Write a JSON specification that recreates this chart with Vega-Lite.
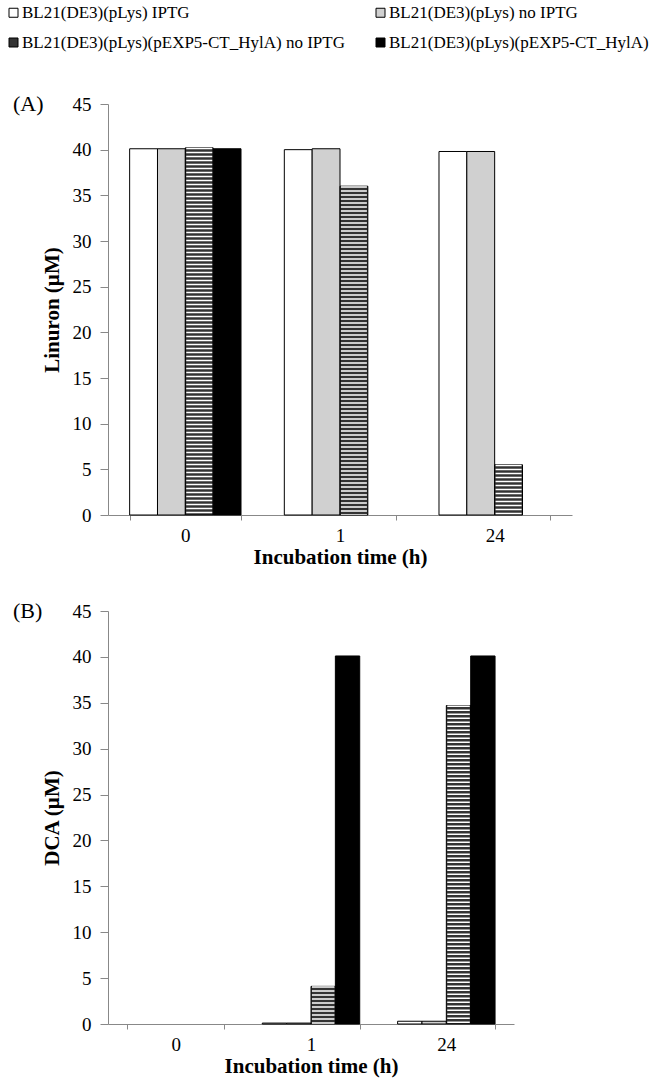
{
  "$schema": "https://vega.github.io/schema/vega-lite/v6.json",
  "padding": {"left": 5, "top": 4, "right": 5, "bottom": 5},
  "config": {
    "font": "Liberation Serif",
    "view": {"stroke": null},
    "axis": {
      "labelFont": "Liberation Serif", "titleFont": "Liberation Serif",
      "labelColor": "black", "titleColor": "black",
      "domainColor": "#888888", "tickColor": "#888888",
      "grid": false, "labelFontSize": 19, "titleFontSize": 21, "titleFontWeight": "bold"
    },
    "title": {"font": "Liberation Serif", "fontSize": 22, "fontWeight": "normal", "color": "black"}
  },
  "datasets": {
    "d": [
      {"panel": "A", "time": "0", "series": "BL21(DE3)(pLys) IPTG", "value": 40.1},
      {"panel": "A", "time": "0", "series": "BL21(DE3)(pLys) no IPTG", "value": 40.1},
      {"panel": "A", "time": "0", "series": "BL21(DE3)(pLys)(pEXP5-CT_HylA) no IPTG", "value": 40.2},
      {"panel": "A", "time": "0", "series": "BL21(DE3)(pLys)(pEXP5-CT_HylA)", "value": 40.1},
      {"panel": "A", "time": "1", "series": "BL21(DE3)(pLys) IPTG", "value": 40.0},
      {"panel": "A", "time": "1", "series": "BL21(DE3)(pLys) no IPTG", "value": 40.1},
      {"panel": "A", "time": "1", "series": "BL21(DE3)(pLys)(pEXP5-CT_HylA) no IPTG", "value": 36.0},
      {"panel": "A", "time": "1", "series": "BL21(DE3)(pLys)(pEXP5-CT_HylA)", "value": 0},
      {"panel": "A", "time": "24", "series": "BL21(DE3)(pLys) IPTG", "value": 39.8},
      {"panel": "A", "time": "24", "series": "BL21(DE3)(pLys) no IPTG", "value": 39.8},
      {"panel": "A", "time": "24", "series": "BL21(DE3)(pLys)(pEXP5-CT_HylA) no IPTG", "value": 5.5},
      {"panel": "A", "time": "24", "series": "BL21(DE3)(pLys)(pEXP5-CT_HylA)", "value": 0},
      {"panel": "B", "time": "0", "series": "BL21(DE3)(pLys) IPTG", "value": 0},
      {"panel": "B", "time": "0", "series": "BL21(DE3)(pLys) no IPTG", "value": 0},
      {"panel": "B", "time": "0", "series": "BL21(DE3)(pLys)(pEXP5-CT_HylA) no IPTG", "value": 0},
      {"panel": "B", "time": "0", "series": "BL21(DE3)(pLys)(pEXP5-CT_HylA)", "value": 0},
      {"panel": "B", "time": "1", "series": "BL21(DE3)(pLys) IPTG", "value": 0.1},
      {"panel": "B", "time": "1", "series": "BL21(DE3)(pLys) no IPTG", "value": 0.1},
      {"panel": "B", "time": "1", "series": "BL21(DE3)(pLys)(pEXP5-CT_HylA) no IPTG", "value": 4.1},
      {"panel": "B", "time": "1", "series": "BL21(DE3)(pLys)(pEXP5-CT_HylA)", "value": 40.1},
      {"panel": "B", "time": "24", "series": "BL21(DE3)(pLys) IPTG", "value": 0.3},
      {"panel": "B", "time": "24", "series": "BL21(DE3)(pLys) no IPTG", "value": 0.3},
      {"panel": "B", "time": "24", "series": "BL21(DE3)(pLys)(pEXP5-CT_HylA) no IPTG", "value": 34.7},
      {"panel": "B", "time": "24", "series": "BL21(DE3)(pLys)(pEXP5-CT_HylA)", "value": 40.1}
    ]
  },
  "data": {"name": "d"},
  "spacing": 33,
  "resolve": {"scale": {"color": "shared", "x": "independent", "y": "independent", "xOffset": "independent"}},
  "vconcat": [
    {
      "width": 464, "height": 411,
      "title": {"text": "(A)", "anchor": "start", "frame": "group", "dx": -95, "dy": 25},
      "transform": [{"filter": "datum.panel == 'A'"}],
      "encoding": {
        "x": {"field": "time", "type": "ordinal", "sort": ["0", "1", "24"],
          "scale": {"domain": ["0", "1", "24"], "paddingInner": 0.28, "paddingOuter": 0.14},
          "axis": {"labelAngle": 0, "tickBand": "extent", "tickSize": 5, "labelPadding": 6, "title": "Incubation time (h)", "titlePadding": 1}},
        "xOffset": {"field": "series", "type": "nominal",
          "sort": ["BL21(DE3)(pLys) IPTG", "BL21(DE3)(pLys) no IPTG", "BL21(DE3)(pLys)(pEXP5-CT_HylA) no IPTG", "BL21(DE3)(pLys)(pEXP5-CT_HylA)"],
          "scale": {"domain": ["BL21(DE3)(pLys) IPTG", "BL21(DE3)(pLys) no IPTG", "BL21(DE3)(pLys)(pEXP5-CT_HylA) no IPTG", "BL21(DE3)(pLys)(pEXP5-CT_HylA)"], "paddingInner": 0, "paddingOuter": 0}},
        "y": {"field": "value", "type": "quantitative",
          "scale": {"domain": [0, 45], "nice": false},
          "axis": {"values": [0, 5, 10, 15, 20, 25, 30, 35, 40, 45], "tickSize": 8, "labelPadding": 9, "title": "Linuron (µM)", "titlePadding": 10}}
      },
      "layer": [
        {
          "transform": [{"filter": "datum.value > 0"}],
          "mark": {"type": "bar", "stroke": "black", "strokeWidth": 1},
          "encoding": {
            "color": {"field": "series", "type": "nominal",
              "scale": {"domain": ["BL21(DE3)(pLys) IPTG", "BL21(DE3)(pLys) no IPTG", "BL21(DE3)(pLys)(pEXP5-CT_HylA) no IPTG", "BL21(DE3)(pLys)(pEXP5-CT_HylA)"],
                "range": ["white", "#d0d0d0", "#333333", "black"]},
              "legend": {"title": null, "orient": "none", "legendX": -103, "legendY": -100, "columns": 2, "direction": "horizontal",
                "symbolType": "square", "symbolSize": 81, "symbolStrokeColor": "black", "symbolStrokeWidth": 1,
                "labelFont": "Liberation Serif", "labelFontSize": 17, "labelColor": "black", "labelLimit": 0,
                "rowPadding": 12, "columnPadding": 27, "labelOffset": 0}}
          }
        },
        {
          "transform": [{"filter": "datum.series == 'BL21(DE3)(pLys)(pEXP5-CT_HylA) no IPTG' && datum.value > 0"}],
          "mark": {"type": "rule", "color": "white", "strokeWidth": 26, "strokeDash": [1.5, 2.5], "strokeCap": "butt"},
          "encoding": {"y2": {"datum": 0}}
        }
      ]
    },
    {
      "width": 406, "height": 413,
      "title": {"text": "(B)", "anchor": "start", "frame": "group", "dx": -95, "dy": 25},
      "transform": [{"filter": "datum.panel == 'B'"}],
      "encoding": {
        "x": {"field": "time", "type": "ordinal", "sort": ["0", "1", "24"],
          "scale": {"domain": ["0", "1", "24"], "paddingInner": 0.28, "paddingOuter": 0.14},
          "axis": {"labelAngle": 0, "tickBand": "extent", "tickSize": 5, "labelPadding": 6, "title": "Incubation time (h)", "titlePadding": 1}},
        "xOffset": {"field": "series", "type": "nominal",
          "sort": ["BL21(DE3)(pLys) IPTG", "BL21(DE3)(pLys) no IPTG", "BL21(DE3)(pLys)(pEXP5-CT_HylA) no IPTG", "BL21(DE3)(pLys)(pEXP5-CT_HylA)"],
          "scale": {"domain": ["BL21(DE3)(pLys) IPTG", "BL21(DE3)(pLys) no IPTG", "BL21(DE3)(pLys)(pEXP5-CT_HylA) no IPTG", "BL21(DE3)(pLys)(pEXP5-CT_HylA)"], "paddingInner": 0, "paddingOuter": 0}},
        "y": {"field": "value", "type": "quantitative",
          "scale": {"domain": [0, 45], "nice": false},
          "axis": {"values": [0, 5, 10, 15, 20, 25, 30, 35, 40, 45], "tickSize": 8, "labelPadding": 9, "title": "DCA (µM)", "titlePadding": 10}}
      },
      "layer": [
        {
          "transform": [{"filter": "datum.value > 0"}],
          "mark": {"type": "bar", "stroke": "black", "strokeWidth": 1},
          "encoding": {
            "color": {"field": "series", "type": "nominal",
              "scale": {"domain": ["BL21(DE3)(pLys) IPTG", "BL21(DE3)(pLys) no IPTG", "BL21(DE3)(pLys)(pEXP5-CT_HylA) no IPTG", "BL21(DE3)(pLys)(pEXP5-CT_HylA)"],
                "range": ["white", "#d0d0d0", "#333333", "black"]}}
          }
        },
        {
          "transform": [{"filter": "datum.series == 'BL21(DE3)(pLys)(pEXP5-CT_HylA) no IPTG' && datum.value > 0"}],
          "mark": {"type": "rule", "color": "white", "strokeWidth": 22.5, "strokeDash": [1.5, 2.5], "strokeCap": "butt"},
          "encoding": {"y2": {"datum": 0}}
        }
      ]
    }
  ]
}
